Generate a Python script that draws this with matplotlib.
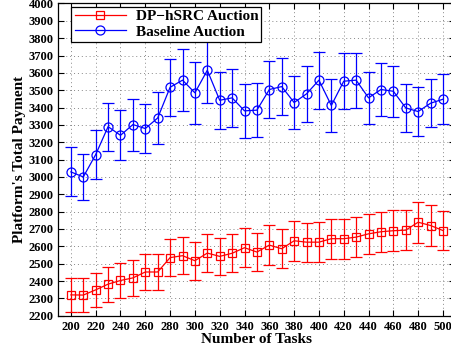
import matplotlib
matplotlib.use("Agg")
import matplotlib.pyplot as plt
from matplotlib.lines import Line2D

plt.rcParams['font.family'] = ['Liberation Serif', 'DejaVu Serif']
plt.rcParams['font.weight'] = 'bold'

# number of tasks
tasks = list(range(200, 510, 10))

# DP-hSRC auction: mean payment and error half-width
dp_mean = [2320, 2319, 2349, 2382, 2403, 2418, 2452, 2452, 2535, 2546,
           2517, 2561, 2542, 2560, 2592, 2567, 2607, 2586, 2632, 2624,
           2624, 2644, 2644, 2653, 2672, 2684, 2690, 2693, 2739, 2720, 2691]
dp_err = [96, 97, 97, 101, 103, 102, 104, 102, 107, 107,
          110, 110, 108, 110, 112, 112, 114, 113, 114, 113,
          114, 115, 116, 115, 115, 115, 117, 116, 117, 119, 113]

# baseline auction
base_mean = [3029, 3000, 3129, 3290, 3240, 3302, 3279, 3340, 3517, 3558,
             3485, 3615, 3442, 3456, 3381, 3385, 3504, 3521, 3429, 3479,
             3558, 3412, 3552, 3558, 3456, 3504, 3494, 3398, 3377, 3425, 3448]
base_err = [141, 135, 141, 138, 145, 150, 140, 152, 164, 177,
            177, 188, 163, 166, 156, 157, 166, 163, 155, 163,
            165, 154, 162, 158, 149, 153, 148, 139, 142, 138, 143]

fig = plt.figure(figsize=(4.52, 3.56), dpi=100)
ax = fig.add_axes([0.1294, 0.1132, 0.878, 0.877])

ax.errorbar(tasks, dp_mean, yerr=dp_err, color='red', marker='s',
            markersize=5.5, markerfacecolor='none', markeredgewidth=0.9,
            linewidth=0.9, elinewidth=0.9, capsize=4.5, capthick=0.9)
ax.errorbar(tasks, base_mean, yerr=base_err, color='blue', marker='o',
            markersize=6.5, markerfacecolor='none', markeredgewidth=0.9,
            linewidth=0.9, elinewidth=0.9, capsize=4.5, capthick=0.9)

ax.set_xlim(190, 510)
ax.set_ylim(2200, 4000)
ax.set_xticks(range(200, 501, 20))
ax.set_yticks(range(2200, 4001, 100))
ax.tick_params(direction='in', top=True, right=True, length=4, width=0.8,
               labelsize=9)
for lab in ax.get_xticklabels() + ax.get_yticklabels():
    lab.set_fontweight('bold')
ax.grid(True, linestyle=(0, (1, 3)), color='#888888', linewidth=0.7)
for s in ax.spines.values():
    s.set_linewidth(0.9)

ax.set_xlabel('Number of Tasks', fontsize=11, fontweight='bold', labelpad=0)
ax.set_ylabel("Platform's Total Payment", fontsize=11, fontweight='bold',
              labelpad=2)

handles = [
    Line2D([], [], color='red', marker='s', markersize=5.5,
           markerfacecolor='none', markeredgewidth=0.9, linewidth=0.9),
    Line2D([], [], color='blue', marker='o', markersize=6.5,
           markerfacecolor='none', markeredgewidth=0.9, linewidth=0.9),
]
leg = ax.legend(handles, ['DP\u2212hSRC Auction', 'Baseline Auction'],
                loc='upper left', bbox_to_anchor=(0.025, 1.0), fontsize=11,
                fancybox=False, framealpha=1, edgecolor='black',
                handlelength=3.4, borderpad=0.2, labelspacing=0.1,
                handletextpad=0.6, borderaxespad=0.2)
leg.get_frame().set_linewidth(0.9)
for t in leg.get_texts():
    t.set_fontweight('bold')

fig.savefig('out.png', dpi=100)
